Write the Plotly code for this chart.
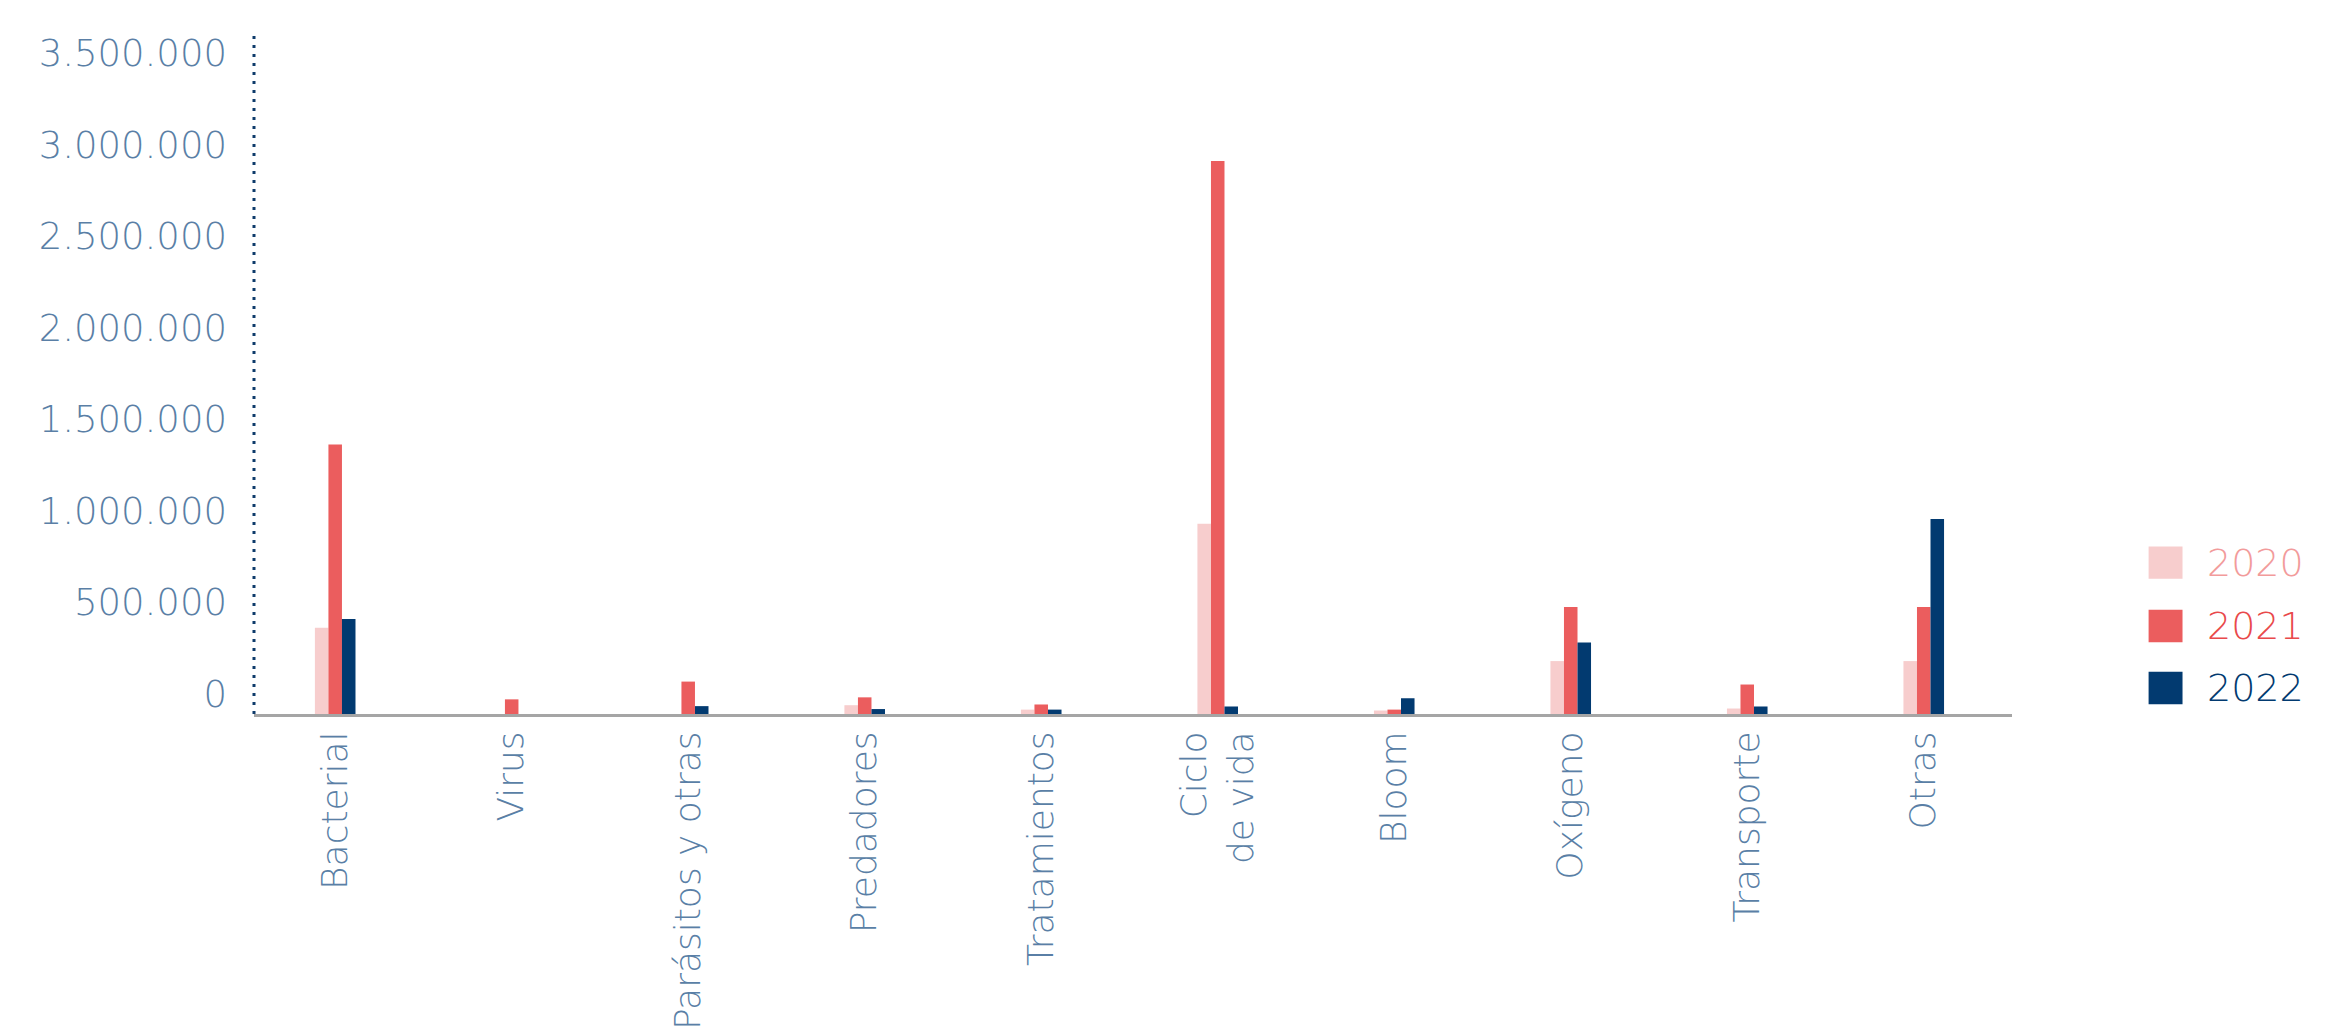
import plotly.graph_objects as go

categorias = ["Bacterial", "Virus", "Parásitos y otras", "Predadores", "Tratamientos",
              "Ciclo<br>de vida", "Bloom", "Oxígeno", "Transporte", "Otras"]
anios = ["2020", "2021", "2022"]
v2020 = [471000, 0, 0, 48000, 24000, 1039000, 19000, 289000, 30000, 289000]
v2021 = [1472000, 80000, 177000, 91000, 52000, 3020000, 24000, 585000, 161000, 585000]
v2022 = [519000, 0, 43000, 27000, 24000, 41000, 86000, 391000, 41000, 1065000]
yticks = [0, 500000, 1000000, 1500000, 2000000, 2500000, 3000000, 3500000]
ytick_text = ["0", "500.000", "1.000.000", "1.500.000", "2.000.000",
              "2.500.000", "3.000.000", "3.500.000"]

colores = ["#F7CDCD", "#EB5D5E", "#023A70"]
colores_txt = ["#F29B9B", "#E9494B", "#023A70"]
azul_txt = "#5A7FA6"
fuente = "DejaVu Sans"
peso = 300

fig = go.Figure()
for anio, vals, col in zip(anios, [v2020, v2021, v2022], colores):
    fig.add_trace(go.Bar(x=categorias, y=vals, name=anio, marker_color=col,
                         marker_line_width=0))

fig.update_layout(
    width=2351, height=1034,
    margin=dict(l=246, r=347, t=25, b=314),
    paper_bgcolor="white", plot_bgcolor="white",
    barmode="group", bargap=0.77, bargroupgap=0,
    showlegend=False,
    font=dict(family=fuente, color=azul_txt, size=36, weight=peso),
)
fig.update_xaxes(
    range=[-0.46, 9.5], tickangle=-90, showgrid=False,
    showline=True, linecolor="#A5A5A5", linewidth=3,
    ticks="", tickfont=dict(family=fuente, size=36, color=azul_txt, weight=peso),
)
fig.update_yaxes(
    range=[0, 3719000], tickvals=yticks, ticktext=ytick_text,
    showgrid=False, zeroline=False, showline=False, ticks="",
    ticklabelshift=-20, ticklabelstandoff=26,
    tickfont=dict(family=fuente, size=37, color=azul_txt, weight=peso),
)

# eje vertical punteado
fig.add_shape(type="line", xref="paper", yref="paper", x0=0, x1=0, y0=0, y1=1,
              line=dict(color="#0E3B6B", width=3, dash="3px,6px"))

# leyenda a medida
ley_y = [(0.2460, 0.1985), (0.1530, 0.1055), (0.0620, 0.0145)]
for anio, col, tcol, (ya, yb) in zip(anios, colores, colores_txt, ley_y):
    fig.add_shape(type="rect", xref="paper", yref="paper",
                  x0=1.0777, x1=1.0970, y0=yb, y1=ya,
                  fillcolor=col, line_width=0)
    fig.add_annotation(xref="paper", yref="paper", x=1.1100, y=(ya + yb) / 2,
                       text=anio, showarrow=False, xanchor="left", yanchor="middle",
                       font=dict(family=fuente, size=38, color=tcol, weight=peso))

fig.write_html("out.html")
